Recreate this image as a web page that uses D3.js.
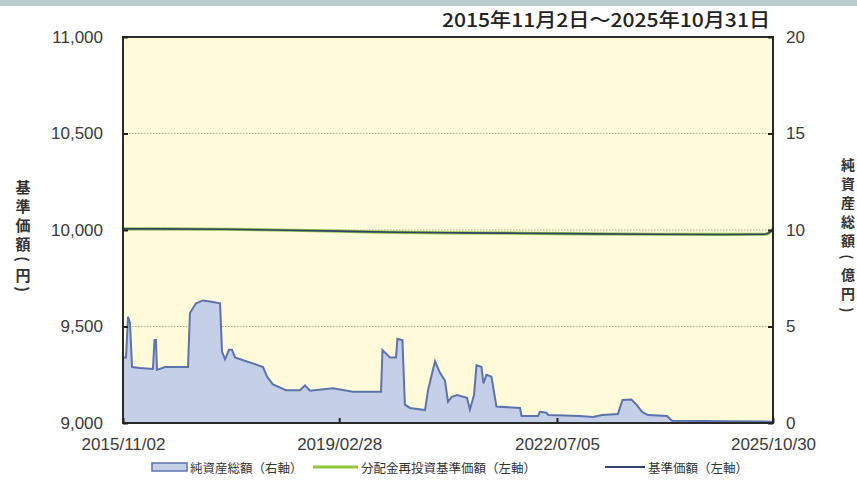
<!DOCTYPE html>
<html><head><meta charset="utf-8">
<script src="https://cdn.jsdelivr.net/npm/d3@7"></script>
<style>
html,body{margin:0;padding:0;background:#fff;}
svg{display:block;}
</style></head>
<body><svg id="c" width="857" height="484"></svg>
<script>
// ---- data ----
const title = "2015年11月2日～2025年10月31日";
const xTickLabels = ["2015/11/02","2019/02/28","2022/07/05","2025/10/30"];
const leftTicks = [9000, 9500, 10000, 10500, 11000];
const rightTicks = [0, 5, 10, 15, 20];
const leftTitle = ["基","準","価","額","(","円",")"];
const rightTitle = ["純","資","産","総","額","(","億","円",")"];
const legendLabels = ["純資産総額（右軸）","分配金再投資基準価額（左軸）","基準価額（左軸）"];

// net assets (億円)
const assetDates = ["2015-11-02","2015-11-19","2015-11-30","2015-12-11","2015-12-23","2016-02-05","2016-04-18","2016-04-27","2016-05-05","2016-05-11","2016-06-25","2016-11-01","2016-11-12","2016-12-16","2017-01-24","2017-03-05","2017-04-30","2017-05-11","2017-05-28","2017-06-19","2017-07-06","2017-07-23","2017-09-23","2017-11-12","2017-12-27","2018-01-19","2018-02-21","2018-05-05","2018-07-23","2018-08-20","2018-09-17","2019-01-24","2019-05-16","2019-10-21","2019-10-29","2019-12-10","2020-01-13","2020-01-21","2020-02-18","2020-03-03","2020-04-01","2020-06-24","2020-07-11","2020-08-19","2020-09-16","2020-10-14","2020-10-31","2020-11-22","2020-12-20","2021-02-15","2021-03-03","2021-03-26","2021-04-09","2021-05-07","2021-05-18","2021-06-04","2021-07-02","2021-07-30","2021-12-09","2021-12-18","2022-03-20","2022-03-31","2022-05-07","2022-05-18","2022-11-11","2023-01-23","2023-03-15","2023-06-12","2023-07-08","2023-08-27","2023-09-27","2023-10-25","2023-11-28","2024-03-14","2024-04-11","2025-10-30"];
const assetValues = [3.4,3.4,5.5,5.2,2.9,2.85,2.8,4.3,4.3,2.75,2.9,2.9,5.7,6.2,6.35,6.3,6.2,3.7,3.3,3.8,3.8,3.4,3.2,3.05,2.9,2.4,2.0,1.7,1.7,1.95,1.67,1.8,1.62,1.62,3.78,3.4,3.4,4.35,4.3,0.95,0.78,0.67,1.7,3.2,2.6,2.2,1.1,1.36,1.45,1.3,0.7,1.45,3.0,2.9,2.05,2.5,2.4,0.85,0.78,0.36,0.36,0.58,0.53,0.41,0.36,0.31,0.41,0.47,1.19,1.22,0.93,0.58,0.41,0.36,0.12,0.07];

// NAV (円)
const navDates = ["2015-11-02","2016-06-01","2017-06-01","2018-03-01","2019-02-28","2020-01-15","2021-01-15","2022-01-14","2023-01-16","2024-01-15","2025-01-15","2025-09-15","2025-10-15","2025-10-30"];
const navValues = [10006,10006,10004,10000,9994,9988,9985,9983,9980,9978,9977,9978,9990,10003];
const reinvestValues = [10006,10006,10004,10000,9994,9988,9985,9983,9980,9978,9977,9978,9990,10003];

// ---- chart ----
const parse = d3.timeParse("%Y-%m-%d");
const parseTick = d3.timeParse("%Y/%m/%d");
const svg = d3.select("#c");
const L = 123, R = 773, T = 37, B = 423;

const x = d3.scaleTime().domain([parse("2015-11-02"), parse("2025-10-30")]).range([L, R]);
const yL = d3.scaleLinear().domain([9000, 11000]).range([B, T]);
const yR = d3.scaleLinear().domain([0, 20]).range([B, T]);

// top band
svg.append("rect").attr("x",0).attr("y",0).attr("width",857).attr("height",6).attr("fill","#b7cdcc");

// plot background
svg.append("rect").attr("x",L).attr("y",T).attr("width",R-L).attr("height",B-T).attr("fill","#fffbda");

// grid lines
svg.append("g").selectAll("line").data(leftTicks.filter(d=>d>9000 && d<11000)).join("line")
  .attr("x1",L).attr("x2",R).attr("y1",d=>yL(d)).attr("y2",d=>yL(d))
  .attr("stroke","#b9ad86").attr("stroke-width",1).attr("stroke-dasharray","1.5,1.5");

// area
const assets = assetDates.map((d,i)=>({d:parse(d), v:assetValues[i]}));
svg.append("path").datum(assets)
  .attr("d", d3.area().x(p=>x(p.d)).y0(yR(0)).y1(p=>yR(p.v)))
  .attr("fill","#c5cfe7");
svg.append("path").datum(assets)
  .attr("d", d3.line().x(p=>x(p.d)).y(p=>yR(p.v)))
  .attr("fill","none").attr("stroke","#5c74ae").attr("stroke-width",2);

// lines
const reinv = navDates.map((d,i)=>({d:parse(d), v:reinvestValues[i]}));
const nav = navDates.map((d,i)=>({d:parse(d), v:navValues[i]}));
const ln = d3.line().x(p=>x(p.d)).y(p=>yL(p.v)).curve(d3.curveMonotoneX);
svg.append("path").datum(reinv).attr("d",ln).attr("fill","none").attr("stroke","#8dc63f").attr("stroke-width",3.2);
svg.append("path").datum(nav).attr("d",ln).attr("fill","none").attr("stroke","#33416e").attr("stroke-width",1.6);

// frame
svg.append("rect").attr("x",L).attr("y",T).attr("width",R-L).attr("height",B-T)
  .attr("fill","none").attr("stroke","#2a2a2a").attr("stroke-width",2);

const tickFont = "'Liberation Sans', Arial, sans-serif";
// left axis
const gL = svg.append("g").attr("transform",`translate(${L},0)`)
  .call(d3.axisLeft(yL).tickValues(leftTicks).tickFormat(d3.format(",")).tickSize(-5).tickPadding(20));
gL.select(".domain").remove();
gL.selectAll("line").attr("stroke","#222").attr("stroke-width",2);
gL.selectAll("text").attr("font-family",tickFont).attr("font-size",17).attr("fill","#3a3a3a");

// right axis
const gR = svg.append("g").attr("transform",`translate(${R},0)`)
  .call(d3.axisRight(yR).tickValues(rightTicks).tickSize(-5).tickPadding(13));
gR.select(".domain").remove();
gR.selectAll("line").attr("stroke","#222").attr("stroke-width",2);
gR.selectAll("text").attr("font-family",tickFont).attr("font-size",17).attr("fill","#3a3a3a");

// bottom axis
const gB = svg.append("g").attr("transform",`translate(0,${B})`)
  .call(d3.axisBottom(x).tickValues(xTickLabels.map(parseTick)).tickFormat(d3.timeFormat("%Y/%m/%d")).tickSize(-5).tickPadding(15));
gB.select(".domain").remove();
gB.selectAll("line").attr("stroke","#222").attr("stroke-width",2);
gB.selectAll("text").attr("font-family",tickFont).attr("font-size",17).attr("fill","#3a3a3a");

// title
svg.append("text").attr("x",770).attr("y",27).attr("text-anchor","end")
  .attr("font-family","'Noto Sans CJK JP', sans-serif").attr("font-size",19).attr("font-weight",500)
  .attr("fill","#222").attr("textLength",328).attr("lengthAdjust","spacingAndGlyphs").text(title);

// axis titles (stacked vertical characters)
const cjk = "'Noto Sans CJK JP', sans-serif";
function stack(chars, cx, ys, fs){
  const g = svg.append("g");
  chars.forEach((ch,i)=>{
    const paren = ch === "(" || ch === ")";
    const t = g.append("text").attr("x",cx).attr("y",ys[i])
      .attr("text-anchor","middle").attr("dominant-baseline","central")
      .attr("font-family",cjk).attr("font-size",fs).attr("font-weight",700).attr("fill","#333").text(ch);
    if (paren) t.attr("transform",`rotate(90,${cx},${ys[i]})`);
  });
}
stack(leftTitle, 23, [186, 205, 224, 243, 259, 274, 289], 15);
stack(rightTitle, 848, [164, 183, 202, 221, 240, 257, 274, 293, 310], 14);

// legend
const lg = svg.append("g");
const ly = 467;
lg.append("rect").attr("x",152).attr("y",ly-4).attr("width",35).attr("height",8)
  .attr("fill","#c5cfe7").attr("stroke","#5c74ae").attr("stroke-width",1.5);
lg.append("text").attr("x",190).attr("y",ly).attr("dominant-baseline","central")
  .attr("font-family",cjk).attr("font-size",12.5).attr("fill","#333").text(legendLabels[0]);
lg.append("line").attr("x1",313).attr("x2",358).attr("y1",ly).attr("y2",ly).attr("stroke","#8dc63f").attr("stroke-width",3);
lg.append("text").attr("x",361).attr("y",ly).attr("dominant-baseline","central")
  .attr("font-family",cjk).attr("font-size",12.5).attr("fill","#333").text(legendLabels[1]);
lg.append("line").attr("x1",605).attr("x2",645).attr("y1",ly).attr("y2",ly).attr("stroke","#33416e").attr("stroke-width",2);
lg.append("text").attr("x",648).attr("y",ly).attr("dominant-baseline","central")
  .attr("font-family",cjk).attr("font-size",12.5).attr("fill","#333").text(legendLabels[2]);
</script>
</body></html>
